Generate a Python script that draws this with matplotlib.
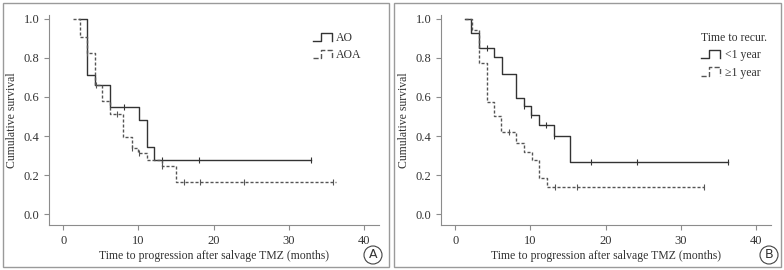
import numpy as np
import matplotlib.pyplot as plt
from matplotlib.lines import Line2D
from matplotlib.legend_handler import HandlerBase
from matplotlib.patches import Rectangle

plt.rcParams['font.family'] = ['Liberation Serif', 'DejaVu Serif']

# ---- panel A: histology ----
ao_t = [2.1, 3.2, 4.2, 6.2, 10.1, 11.1, 12.1]
ao_s = [1.0, 0.714, 0.66, 0.55, 0.484, 0.345, 0.278]
ao_end = 33.0
ao_cens = [8.1, 13.1, 18.0, 33.0]

aoa_t = [1.3, 2.2, 3.2, 4.2, 5.2, 6.2, 8.0, 9.1, 9.9, 11.1, 13.1, 15.0]
aoa_s = [1.0, 0.906, 0.825, 0.663, 0.58, 0.513, 0.393, 0.34, 0.315, 0.277, 0.245, 0.165]
aoa_end = 36.3
aoa_cens = [3.2, 4.3, 7.1, 9.2, 10.1, 13.1, 16.1, 18.2, 24.0, 35.9]

# ---- panel B: time to recurrence ----
lt1_t = [1.3, 2.1, 3.2, 5.2, 6.2, 8.1, 9.2, 10.1, 11.2, 13.1, 15.3]
lt1_s = [1.0, 0.93, 0.85, 0.807, 0.72, 0.595, 0.554, 0.508, 0.456, 0.398, 0.265]
lt1_end = 36.3
lt1_cens = [4.2, 9.2, 10.1, 12.1, 13.1, 18.0, 24.2, 36.3]

ge1_t = [1.3, 2.2, 3.2, 4.2, 5.2, 6.1, 8.1, 9.2, 10.2, 11.2, 12.2]
ge1_s = [1.0, 0.945, 0.773, 0.573, 0.50, 0.422, 0.362, 0.316, 0.277, 0.186, 0.14]
ge1_end = 33.1
ge1_cens = [7.2, 13.2, 16.2, 33.1]

xticks = [0, 10, 20, 30, 40]
yticks = [0.0, 0.2, 0.4, 0.6, 0.8, 1.0]

fs = 8.5
txt_c = '#333333'
spine_c = '#8c8c8c'


class StepHandler(HandlerBase):
    def create_artists(self, legend, orig, xd, yd, w, h, fontsize, trans):
        x = [xd, xd + 0.45 * w, xd + 0.45 * w, xd + w, xd + w]
        y = [yd, yd, yd + h, yd + h, yd]
        ln = Line2D(x, y, color=orig.get_color(), linestyle=orig.get_linestyle(),
                    linewidth=orig.get_linewidth(), transform=trans)
        return [ln]


def km(ax, t, s, end, cens, ls, color, label):
    tt = list(t) + [end]
    ss = list(s) + [s[-1]]
    line, = ax.step(tt, ss, where='post', color=color, linestyle=ls, lw=1.0, label=label)
    cy = [ss[np.searchsorted(tt, c, side='right') - 1] for c in cens]
    ax.plot(cens, cy, linestyle='none', marker='|', ms=5, mew=0.8, color=color)
    return line


def style(ax):
    ax.set_xlim(-1.9, 42)
    ax.set_ylim(-0.056, 1.02)
    ax.set_xticks(xticks)
    ax.set_yticks(yticks)
    ax.set_yticklabels(['%.1f' % v for v in yticks])
    for sp in ['top', 'right']:
        ax.spines[sp].set_visible(False)
    for sp in ['left', 'bottom']:
        ax.spines[sp].set_color(spine_c)
        ax.spines[sp].set_linewidth(0.8)
    ax.tick_params(colors=spine_c, labelcolor=txt_c, labelsize=9, length=3.5, width=0.8)
    ax.set_xlabel('Time to progression after salvage TMZ (months)', fontsize=fs, color=txt_c, labelpad=2)
    ax.set_ylabel('Cumulative survival', fontsize=fs, color=txt_c, labelpad=4)


fig = plt.figure(figsize=(7.84, 2.70), dpi=100)

axA = fig.add_axes([49 / 784, 1 - 225 / 270, 330 / 784, 210 / 270])
axB = fig.add_axes([441 / 784, 1 - 225 / 270, 330 / 784, 210 / 270])

km(axA, ao_t, ao_s, ao_end, ao_cens, '-', '#333333', 'AO')
km(axA, aoa_t, aoa_s, aoa_end, aoa_cens, (0, (2.2, 1.4)), '#555555', 'AOA')
km(axB, lt1_t, lt1_s, lt1_end, lt1_cens, '-', '#333333', '<1 year')
km(axB, ge1_t, ge1_s, ge1_end, ge1_cens, (0, (2.2, 1.4)), '#555555', '\u22651 year')

for ax in (axA, axB):
    style(ax)

legA = axA.legend(loc='upper right', bbox_to_anchor=(0.98, 0.97), frameon=False, fontsize=fs,
                  handler_map={Line2D: StepHandler()}, handlelength=1.6, handletextpad=0.4,
                  labelspacing=0.45, labelcolor=txt_c)
legB = axB.legend(loc='upper right', bbox_to_anchor=(1.02, 0.97), frameon=False, fontsize=fs,
                  handler_map={Line2D: StepHandler()}, handlelength=1.6, handletextpad=0.4,
                  labelspacing=0.45, labelcolor=txt_c, title='Time to recur.',
                  title_fontsize=fs, alignment='left')
legB.get_title().set_color(txt_c)

# panel frames and circled letters
for x0, x1, letter, cx in [(3, 389, 'A', 373), (394, 781, 'B', 769)]:
    fig.patches.append(Rectangle((x0 / 784, 1 - 267 / 270), (x1 - x0) / 784, 264 / 270,
                                 transform=fig.transFigure, fill=False,
                                 edgecolor='#9a9a9a', lw=1.0))
    fig.text(cx / 784, 1 - 255 / 270, letter, ha='center', va='center', fontsize=9,
             color=txt_c, family='DejaVu Sans',
             bbox=dict(boxstyle='circle,pad=0.2', fc='white', ec='#444444', lw=0.8))

fig.savefig('out.png', dpi=100)
